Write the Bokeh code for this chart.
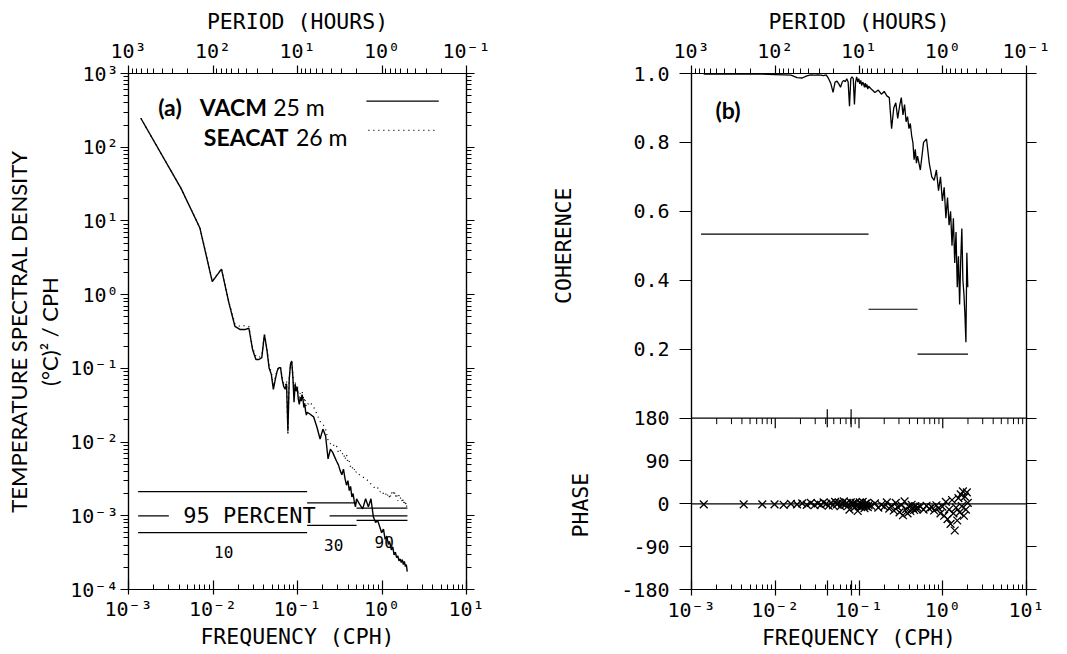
import math
from bokeh.plotting import figure
from bokeh.layouts import row
from bokeh.models import (Range1d, LogScale, LogAxis, LinearAxis, FixedTicker,
                          CustomJSTickFormatter, Label, Span, Title)
from bokeh.core.properties import value
from bokeh.embed import file_html
from bokeh.resources import INLINE

# ---------------- data ----------------
freq = [0.0014, 0.0042, 0.0070, 0.0098, 0.0126, 0.0154, 0.0182, 0.0210, 0.0238, 0.0266,
        0.0294, 0.0322, 0.0350, 0.0378, 0.0406, 0.0434, 0.0462, 0.0490, 0.0518, 0.0546,
        0.0574, 0.0602, 0.0630, 0.0658, 0.0686, 0.0714, 0.0742, 0.0770, 0.0798, 0.0826,
        0.0854, 0.0882, 0.0910, 0.0938, 0.0966, 0.0994, 0.1022, 0.1050, 0.1078, 0.1106,
        0.1134, 0.1162, 0.1190, 0.1218, 0.1246, 0.1274, 0.1302,
        0.140, 0.155, 0.170, 0.185, 0.200, 0.215, 0.230, 0.245, 0.260, 0.275,
        0.290, 0.305, 0.320, 0.335, 0.350, 0.365, 0.380, 0.395, 0.410, 0.425,
        0.440, 0.455, 0.470, 0.485, 0.500,
        0.54, 0.59, 0.64, 0.69, 0.74, 0.79, 0.84, 0.89, 0.94, 0.99,
        1.04, 1.09, 1.14, 1.19, 1.24, 1.29, 1.34, 1.39, 1.44, 1.49,
        1.54, 1.59, 1.64, 1.69, 1.74, 1.79, 1.84, 1.89, 1.94, 1.99]

vacm = [247, 27.4, 8.0, 1.5, 2.22, 0.78, 0.37, 0.336, 0.336, 0.35,
        0.18, 0.132, 0.132, 0.14, 0.288, 0.18, 0.10, 0.083, 0.052, 0.071,
        0.092, 0.102, 0.102, 0.071, 0.057, 0.052, 0.062, 0.0141, 0.071, 0.114,
        0.126, 0.076, 0.0347, 0.061, 0.049, 0.055, 0.0383, 0.0325, 0.0405, 0.036,
        0.044, 0.038, 0.0296, 0.0335, 0.0263, 0.0232, 0.0254,
        0.024, 0.022, 0.0159, 0.011, 0.0150, 0.0121, 0.0059, 0.008, 0.0073, 0.0063,
        0.0055, 0.0049, 0.0041, 0.0036, 0.0043, 0.0032, 0.0026, 0.0030, 0.0022, 0.0025,
        0.0018, 0.0020, 0.00155, 0.00132, 0.0017,
        0.00145, 0.00124, 0.0017, 0.00132, 0.0017, 0.00097, 0.00081, 0.00086, 0.00071, 0.00059,
        0.00066, 0.00048, 0.00053, 0.00041, 0.00043, 0.000345, 0.00038, 0.000295, 0.00032, 0.00027,
        0.000285, 0.000245, 0.00026, 0.000233, 0.000255, 0.000218, 0.00024, 0.000205, 0.000218, 0.000175]

seacat = [247, 27.4, 8.1, 1.55, 2.25, 0.80, 0.40, 0.37, 0.38, 0.37,
          0.19, 0.145, 0.14, 0.15, 0.29, 0.19, 0.11, 0.088, 0.057, 0.075,
          0.095, 0.105, 0.104, 0.076, 0.062, 0.058, 0.068, 0.0125, 0.074, 0.115,
          0.128, 0.082, 0.045, 0.066, 0.055, 0.06, 0.045, 0.04, 0.046, 0.041,
          0.048, 0.043, 0.036, 0.040, 0.033, 0.030, 0.032,
          0.035, 0.03, 0.024, 0.019, 0.0175, 0.015, 0.0105, 0.0095, 0.0098, 0.0085,
          0.0088, 0.0072, 0.0078, 0.0068, 0.0072, 0.0058, 0.0068, 0.0052, 0.0055, 0.0046,
          0.0048, 0.0041, 0.0043, 0.0038, 0.0040,
          0.0036, 0.0034, 0.0031, 0.0030, 0.0027, 0.0025, 0.0023, 0.0024, 0.0021, 0.0022,
          0.0020, 0.0021, 0.0018, 0.0020, 0.0017, 0.0021, 0.0019, 0.0022, 0.0018, 0.0020,
          0.0016, 0.0019, 0.0017, 0.0018, 0.0015, 0.0017, 0.0014, 0.0016, 0.0013, 0.0015]

coherence = [0.998, 0.998, 0.998, 0.997, 0.996, 0.995, 0.988, 0.987, 0.993, 0.996,
             0.995, 0.996, 0.995, 0.994, 0.996, 0.985, 0.97, 0.945, 0.975, 0.978,
             0.97, 0.96, 0.975, 0.98, 0.976, 0.985, 0.975, 0.905, 0.985, 0.99,
             0.985, 0.91, 0.975, 0.99, 0.975, 0.985, 0.97, 0.98, 0.965, 0.975,
             0.97, 0.96, 0.972, 0.96, 0.968, 0.955, 0.963,
             0.955, 0.945, 0.952, 0.94, 0.948, 0.935, 0.93, 0.84, 0.90, 0.915,
             0.87, 0.905, 0.93, 0.88, 0.91, 0.86, 0.875, 0.84, 0.855, 0.82,
             0.80, 0.75, 0.78, 0.74, 0.76,
             0.72, 0.80, 0.81, 0.74, 0.70, 0.69, 0.72, 0.66, 0.70, 0.63,
             0.67, 0.58, 0.64, 0.56, 0.60, 0.50, 0.58, 0.45, 0.54, 0.38,
             0.47, 0.33, 0.46, 0.55, 0.40, 0.36, 0.30, 0.22, 0.48, 0.38]

phase = [-1, -1, -1, -1, -2, 0, -1, 1, -2, 2,
         -3, 1, -2, 3, 0, -4, 2, -3, 4, -1,
         3, -5, 1, 5, -2, 2, -4, -12, 3, -1,
         1, -8, 2, -3, -15, -5, 3, -6, -2, 4,
         -4, -9, 0, -5, 2, -7, -3,
         -4, 1, -8, -2, -6, 3, -10, -4, -14, 2,
         -7, -18, -3, -24, 5, -11, -20, -6, -15, -2,
         -9, -13, -5, -11, -8,
         -6, -12, -4, -10, -7, -14, -3, -9, -20, -6,
         -25, 4, -32, -12, -42, 8, -20, -56, -8, -35,
         12, -18, 20, -5, 26, -25, 15, -12, 24, 2]

# confidence bands (degrees of freedom 10 / 30 / 90)
band_lo = [0.0013, 0.13, 0.5]
band_hi = [0.13, 0.5, 2.0]
dof_labels = ["10", "30", "90"]
dof_label_f = [0.0134, 0.268, 1.06]
dof_label_s = [3.2e-4, 4.07e-4, 4.4e-4]
spec_upper = [2.13e-3, 1.5e-3, 1.27e-3]
spec_lower = [5.9e-4, 7.4e-4, 8.65e-4]
spec_ref = 1e-3
ref_lo = [0.0013, 0.24]
ref_hi = [0.003, 2.0]
coh_level = [0.534, 0.316, 0.186]
tidal_freq = [0.0418, 0.0805]

# tick definitions
freq_exp = [-3, -2, -1, 0, 1]
period_exp = [3, 2, 1, 0, -1]
spec_exp = [-4, -3, -2, -1, 0, 1, 2, 3]
coh_ticks = [0.2, 0.4, 0.6, 0.8, 1.0]
phase_ticks = [180, 90, 0, -90, -180]

# ---------------- styling / layout ----------------
MONO = "DejaVu Sans Mono"
SANS = "Lato"
H = 654
WA, AL, AFW, AT, AFH = 530, 125, 341, 73, 517
WB, BL, BFW, BT, BFH = 537, 161, 335, 71, 518
PH = 172.0 / 346.0          # phase strip height in coherence units
DEG_PX = 360.0 / 172.0      # degrees per pixel in phase strip


def decades(exps):
    return [10.0 ** e for e in exps]


def minors(exps):
    lo, hi = min(exps), max(exps)
    return [m * 10.0 ** e for e in range(lo, hi) for m in range(2, 10)]


LOG_FMT = """
const sup = {"-": "\\u207B", "0": "\\u2070", "1": "\\u00B9", "2": "\\u00B2", "3": "\\u00B3",
             "4": "\\u2074", "5": "\\u2075", "6": "\\u2076", "7": "\\u2077", "8": "\\u2078", "9": "\\u2079"};
const e = Math.log10(tick);
const r = Math.round(e);
if (Math.abs(e - r) > 1e-6) { return ""; }
let s = "10";
for (const c of String(r)) { s += sup[c]; }
return s;
"""


def log_fmt():
    return CustomJSTickFormatter(code=LOG_FMT)


def blank_fmt():
    return CustomJSTickFormatter(code="return '';")


def style(ax, tin, tout, min_in, min_out, size="20px", standoff=4):
    ax.axis_line_color = "black"
    ax.axis_line_width = 1.2
    ax.major_tick_line_color = "black"
    ax.major_tick_line_width = 1.2
    ax.minor_tick_line_color = "black"
    ax.minor_tick_line_width = 1.0
    ax.major_tick_in = tin
    ax.major_tick_out = tout
    ax.minor_tick_in = min_in
    ax.minor_tick_out = min_out
    ax.major_label_text_font = MONO
    ax.major_label_text_font_size = size
    ax.major_label_text_color = "black"
    ax.major_label_standoff = standoff


def axis_title(ax, text, font=MONO, size="21.5px", standoff=2):
    ax.axis_label = text
    ax.axis_label_text_font = font
    ax.axis_label_text_font_size = size
    ax.axis_label_text_font_style = "normal"
    ax.axis_label_text_color = "black"
    ax.axis_label_standoff = standoff


def side_title(p, text, font, size, align, offset, standoff):
    p.add_layout(Title(text=text, text_font=font, text_font_size=size,
                       text_font_style="normal", text_color="black",
                       align=align, offset=offset, standoff=standoff), "left")


def base_fig(width, left, fw, top, fh, **kw):
    p = figure(width=width, height=H, min_border_left=left,
               min_border_right=width - left - fw, min_border_top=top,
               min_border_bottom=H - top - fh, output_backend="svg",
               toolbar_location=None, title=None, **kw)
    p.grid.visible = False
    p.outline_line_color = "black"
    p.outline_line_width = 1.2
    p.background_fill_color = "white"
    p.border_fill_color = "white"
    return p


def add_label(p, x, y, text, font, size, style_="normal"):
    p.add_layout(Label(x=x, y=y, text=text, text_font=font, text_font_size=size,
                       text_font_style=style_, text_align="left",
                       text_baseline="alphabetic", text_color="black"))


# ---------------- panel (a) ----------------
pa = base_fig(WA, AL, AFW, AT, AFH, x_axis_type="log", y_axis_type="log",
              x_range=Range1d(1e-3, 10), y_range=Range1d(1e-4, 1e3))
pa.extra_x_ranges = {"period": Range1d(1000, 0.1)}
pa.extra_x_scales = {"period": LogScale()}


def afx(px):
    return 10 ** (-3 + (px - AL) * 4.0 / AFW)


def afy(py):
    return 10 ** (3 - (py - AT) * 7.0 / AFH)


ax_b = pa.xaxis[0]
ax_b.ticker = FixedTicker(ticks=decades(freq_exp), minor_ticks=minors(freq_exp))
ax_b.formatter = log_fmt()
style(ax_b, 9, 5, 5, 0, standoff=2)
axis_title(ax_b, "FREQUENCY (CPH)", standoff=0)

ax_l = pa.yaxis[0]
ax_l.ticker = FixedTicker(ticks=decades(spec_exp), minor_ticks=minors(spec_exp))
ax_l.formatter = log_fmt()
style(ax_l, 0, 8, 0, 5, standoff=2)
axis_title(ax_l, "(\u00b0C)\u00b2 / CPH", font=SANS, size="22px", standoff=4)

ax_r = LogAxis(ticker=FixedTicker(ticks=decades(spec_exp), minor_ticks=minors(spec_exp)),
               formatter=blank_fmt())
style(ax_r, 0, 8, 0, 5)
pa.add_layout(ax_r, "right")

ax_t = LogAxis(x_range_name="period",
               ticker=FixedTicker(ticks=decades(period_exp), minor_ticks=minors(period_exp)),
               formatter=log_fmt())
style(ax_t, 0, 8, 0, 5, standoff=3)
axis_title(ax_t, "PERIOD (HOURS)")
pa.add_layout(ax_t, "above")

side_title(pa, "TEMPERATURE SPECTRAL DENSITY", SANS, "22px", "center", 0, 4)

pa.line(freq, vacm, line_color="black", line_width=1.4)
pa.line(freq, seacat, line_color="black", line_width=1.3, line_dash="1 4")

pa.segment(x0=band_lo, y0=spec_upper, x1=band_hi, y1=spec_upper, line_color="black", line_width=1.2)
pa.segment(x0=band_lo, y0=spec_lower, x1=band_hi, y1=spec_lower, line_color="black", line_width=1.2)
pa.segment(x0=ref_lo, y0=[spec_ref] * len(ref_lo), x1=ref_hi, y1=[spec_ref] * len(ref_hi),
           line_color="black", line_width=1.2)
pa.text(x=[afx(247)], y=[spec_ref], text=["95 PERCENT"], text_font=value(MONO),
        text_font_size=value("22px"), text_align="center", text_baseline="middle", text_color="black")
pa.text(x=dof_label_f, y=dof_label_s, text=dof_labels, text_font=value(MONO),
        text_font_size=value("16px"), text_align="center", text_baseline="middle", text_color="black")

# legend
pa.line([afx(365), afx(438)], [afy(100.7)] * 2, line_color="black", line_width=1.4)
pa.line([afx(367), afx(435)], [afy(130)] * 2, line_color="black", line_width=1.3, line_dash="1 4")
add_label(pa, afx(155), afy(106.7), "(a)", SANS, "23px", "bold")
add_label(pa, afx(197), afy(106.7), "VACM", SANS, "23px", "bold")
add_label(pa, afx(271), afy(106.7), "25 m", SANS, "23px")
add_label(pa, afx(201), afy(136.7), "SEACAT", SANS, "23px", "bold")
add_label(pa, afx(294), afy(136.7), "26 m", SANS, "23px")

# ---------------- panel (b) ----------------
pb = base_fig(WB, BL, BFW, BT, BFH, x_axis_type="log",
              x_range=Range1d(1e-3, 10), y_range=Range1d(-PH, 1.0))
pb.extra_x_ranges = {"period": Range1d(1000, 0.1)}
pb.extra_x_scales = {"period": LogScale()}
pb.extra_y_ranges = {"phase": Range1d(-180, 180 + 360.0 / PH)}


def bfx(px):
    return 10 ** (-3 + (px - WA - BL) * 4.0 / BFW)


def bfy(py):
    return 1.0 - (py - BT) / 346.0


left_ticks = coh_ticks + [(p - 180) / 360.0 * PH for p in phase_ticks]
CP_FMT = """
if (tick > 0.05) { return tick.toFixed(1); }
return String(Math.round(180 + tick * 360 / ph));
"""

bx_b = pb.xaxis[0]
bx_b.ticker = FixedTicker(ticks=decades(freq_exp) + tidal_freq, minor_ticks=minors(freq_exp))
bx_b.formatter = log_fmt()
style(bx_b, 9, 6, 5, 0, standoff=2)
axis_title(bx_b, "FREQUENCY (CPH)", standoff=0)

by_l = pb.yaxis[0]
by_l.ticker = FixedTicker(ticks=left_ticks, minor_ticks=[])
by_l.formatter = CustomJSTickFormatter(args=dict(ph=PH), code=CP_FMT)
style(by_l, 0, 12, 0, 0, standoff=10)

by_r = LinearAxis(ticker=FixedTicker(ticks=left_ticks, minor_ticks=[]), formatter=blank_fmt())
style(by_r, 0, 10, 0, 0)
pb.add_layout(by_r, "right")

bx_t = LogAxis(x_range_name="period",
               ticker=FixedTicker(ticks=decades(period_exp), minor_ticks=minors(period_exp)),
               formatter=log_fmt())
style(bx_t, 0, 8, 0, 5, standoff=3)
axis_title(bx_t, "PERIOD (HOURS)")
pb.add_layout(bx_t, "above")

side_title(pb, "PHASE", MONO, "21.5px", "left", 52, 52)
side_title(pb, "COHERENCE", MONO, "21.5px", "right", 114, -73)

# separator at phase 180 and zero-phase line
pb.add_layout(Span(location=180, dimension="width", y_range_name="phase",
                   line_color="black", line_width=1.2))
pb.add_layout(Span(location=0, dimension="width", y_range_name="phase",
                   line_color="black", line_width=1.2))
mf = minors(freq_exp)
pb.segment(x0=mf, y0=[180] * len(mf), x1=mf, y1=[180 - 6 * DEG_PX] * len(mf),
           y_range_name="phase", line_color="black", line_width=1.0)
inner_dec = decades(freq_exp)[1:-1]
pb.segment(x0=inner_dec, y0=[180] * len(inner_dec), x1=inner_dec,
           y1=[180 - 10 * DEG_PX] * len(inner_dec), y_range_name="phase",
           line_color="black", line_width=1.2)
pb.segment(x0=tidal_freq, y0=[180 + 9 * DEG_PX] * 2, x1=tidal_freq,
           y1=[180 - 9 * DEG_PX] * 2, y_range_name="phase", line_color="black", line_width=1.2)

pb.segment(x0=band_lo, y0=coh_level, x1=band_hi, y1=coh_level, line_color="black", line_width=1.2)
pb.line(freq, coherence, line_color="black", line_width=1.3)
pb.scatter(freq, phase, marker="x", size=11, line_color="black", line_width=1.3,
           y_range_name="phase")

add_label(pb, bfx(715), bfy(108), "(b)", SANS, "23px", "bold")

layout = row(pa, pb)
open("out.html", "w", encoding="utf-8").write(file_html(layout, INLINE, title="spectra"))
